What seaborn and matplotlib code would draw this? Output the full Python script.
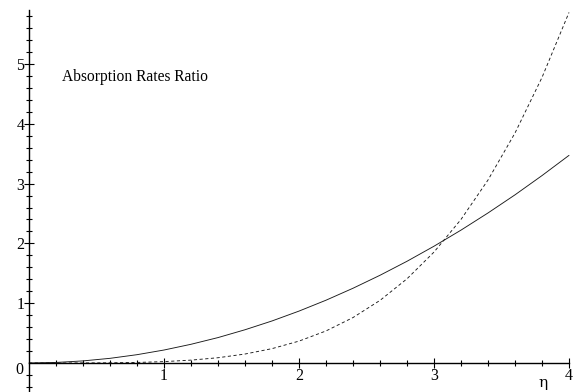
import numpy as np
import pandas as pd
import matplotlib
matplotlib.use("Agg")
import matplotlib.pyplot as plt
from matplotlib.ticker import FixedLocator
import seaborn as sns

# eta values and the two absorption-rate ratio curves
eta = [0.0, 0.2, 0.4, 0.6, 0.8, 1.0, 1.2, 1.4, 1.6, 1.8, 2.0,
       2.2, 2.4, 2.6, 2.8, 3.0, 3.2, 3.4, 3.6, 3.8, 4.0]
ratio_solid = [0.0, 0.009, 0.035, 0.078, 0.139, 0.217, 0.313, 0.425, 0.556, 0.703, 0.868,
               1.050, 1.250, 1.467, 1.701, 1.953, 2.222, 2.509, 2.812, 3.134, 3.472]
ratio_dashed = [0.0, 0.0, 0.001, 0.003, 0.009, 0.023, 0.048, 0.088, 0.150, 0.240, 0.366,
                0.536, 0.760, 1.047, 1.408, 1.855, 2.401, 3.060, 3.846, 4.775, 5.862]
x_ticks = [1, 2, 3, 4]
y_ticks = [1, 2, 3, 4, 5]
title = "Absorption Rates Ratio"

df = pd.DataFrame({"eta": eta, "solid": ratio_solid, "dashed": ratio_dashed})

sns.set_theme(style="white")
plt.rcParams["font.family"] = ["Liberation Serif", "DejaVu Serif"]

fig = plt.figure(figsize=(5.79, 3.92), dpi=100)
ax = fig.add_axes([0, 0, 1, 1])
ax.set_facecolor("white")

sns.lineplot(data=df, x="eta", y="solid", ax=ax, color="#1a1a1a", lw=0.65)
sns.lineplot(data=df, x="eta", y="dashed", ax=ax, color="#1a1a1a", lw=0.65,
             linestyle=(0, (3.5, 2.8)))

ax.set_xlim(-0.215, 4.074)
ax.set_ylim(-0.485, 6.07)

# axes crossing at the origin
for side in ("top", "right"):
    ax.spines[side].set_visible(False)
ax.spines["left"].set_position(("data", 0))
ax.spines["bottom"].set_position(("data", 0))
for side in ("left", "bottom"):
    ax.spines[side].set_color("black")
    ax.spines[side].set_linewidth(1.0)
ax.spines["bottom"].set_bounds(0, 4)
ax.spines["left"].set_bounds(-0.485, 5.9)

ax.set_xticks(x_ticks)
ax.set_yticks(y_ticks)
ax.xaxis.set_minor_locator(FixedLocator([i * 0.2 for i in range(1, 20)]))
ax.yaxis.set_minor_locator(FixedLocator([i * 0.2 for i in range(-2, 30) if i != 0]))
ax.tick_params(which="both", direction="inout", color="black", width=0.8,
               bottom=True, left=True, labelsize=11.5, labelcolor="black")
ax.tick_params(which="major", length=6.5, pad=0)
ax.tick_params(which="minor", length=4.5)
ax.set_xlabel("")
ax.set_ylabel("")

ax.text(-0.045, -0.12, "0", ha="right", va="center", fontsize=11.5, color="black")
ax.text(3.807, -0.33, "η", ha="center", va="center", fontsize=11, color="black",
        family=["DejaVu Serif"])
ax.text(0.245, 4.78, title, ha="left", va="center", fontsize=11.2, color="black")

fig.savefig("out.png", dpi=100)
